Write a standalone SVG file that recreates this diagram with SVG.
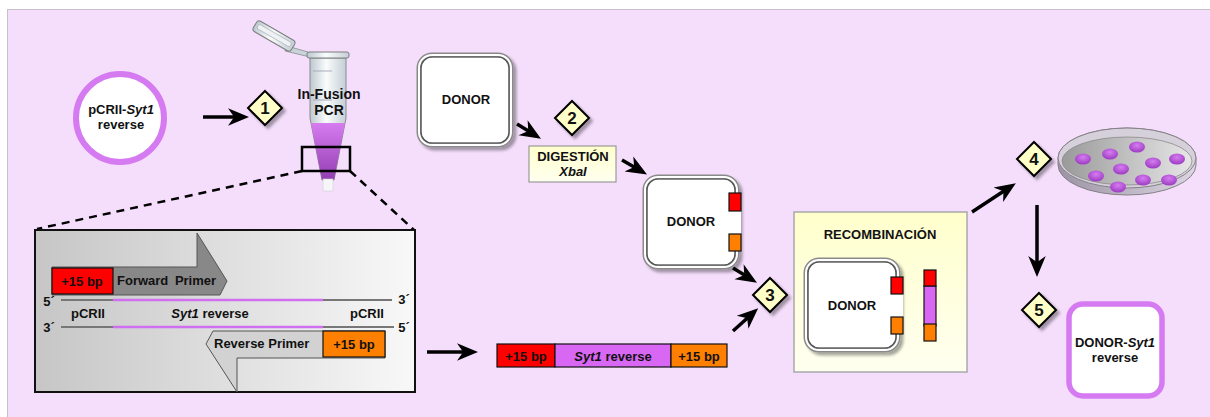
<svg xmlns="http://www.w3.org/2000/svg" width="1210" height="417" viewBox="0 0 1210 417">
  <style>
    text { font-family: "Liberation Sans", Arial, Helvetica, sans-serif; fill: #111; }
    .lbl { font-size: 13px; font-weight: bold; text-anchor: middle; }
    .lbl14 { font-size: 14px; font-weight: bold; text-anchor: middle; }
    .num { font-size: 17px; font-weight: bold; text-anchor: middle; }
    .it { font-style: italic; }
    .conn { stroke: #000; stroke-width: 3.5; fill: none; marker-end: url(#head); }
    .dash { stroke: #000; stroke-width: 2.5; stroke-dasharray: 8 6; fill: none; }
    .diamond { fill: #FFFFC8; stroke: #000; stroke-width: 2; filter: url(#shadow); }
    .ring { fill: #fff; stroke: #D67AF2; stroke-width: 6; }
    .donor-out { fill: #fff; stroke: #8a8a8a; stroke-width: 5; filter: url(#shadow); }
    .donor-mid { fill: none; stroke: #fff; stroke-width: 2; }
    .donor-in { fill: none; stroke: #555; stroke-width: 1.2; }
    .red { fill: #FF0000; stroke: #111; stroke-width: 1.2; }
    .orange { fill: #FF8000; stroke: #111; stroke-width: 1.2; }
    .violet { fill: #D868F4; stroke: #111; stroke-width: 1.2; }
    .colony { fill: url(#colonyGrad); }
    .strand-g { stroke: #777; stroke-width: 2; }
    .strand-p { stroke: #D070F0; stroke-width: 2.5; }
  </style>
  <defs>
    <marker id="head" viewBox="0 0 12 12" refX="8" refY="6" markerWidth="6" markerHeight="6" markerUnits="strokeWidth" orient="auto">
      <path d="M0,1 L12,6 L0,11 L3.5,6 Z" fill="#000"/>
    </marker>
    <filter id="shadow" x="-20%" y="-20%" width="150%" height="150%">
      <feGaussianBlur in="SourceAlpha" stdDeviation="1.5"/>
      <feOffset dx="2.5" dy="2.5" result="b"/>
      <feComponentTransfer><feFuncA type="linear" slope="0.35"/></feComponentTransfer>
      <feMerge><feMergeNode/><feMergeNode in="SourceGraphic"/></feMerge>
    </filter>
    <linearGradient id="insetGrad" x1="0" y1="0" x2="1" y2="0">
      <stop offset="0" stop-color="#C6C6C6"/>
      <stop offset="1" stop-color="#F8F8F8"/>
    </linearGradient>
    <linearGradient id="yellowGrad" x1="0" y1="0" x2="0" y2="1">
      <stop offset="0" stop-color="#FFFFCC"/>
      <stop offset="1" stop-color="#FFFFF0"/>
    </linearGradient>
    <linearGradient id="tubeGrad" x1="0" y1="0" x2="1" y2="0">
      <stop offset="0" stop-color="#BCC8D0"/>
      <stop offset="0.45" stop-color="#FAFCFC"/>
      <stop offset="1" stop-color="#C4CED6"/>
    </linearGradient>
    <linearGradient id="liquidGrad" x1="0" y1="0" x2="0" y2="1">
      <stop offset="0" stop-color="#D67CF0"/>
      <stop offset="1" stop-color="#8E3AAE"/>
    </linearGradient>
    <linearGradient id="dishSide" x1="0" y1="0" x2="1" y2="0">
      <stop offset="0" stop-color="#9C94A4"/>
      <stop offset="1" stop-color="#DCD6E2"/>
    </linearGradient>
    <linearGradient id="dishFloor" x1="0" y1="0" x2="1" y2="0">
      <stop offset="0" stop-color="#9A9A9A"/>
      <stop offset="1" stop-color="#E6E6E6"/>
    </linearGradient>
    <radialGradient id="colonyGrad" cx="0.5" cy="0.35" r="0.6">
      <stop offset="0" stop-color="#D67CF2"/>
      <stop offset="1" stop-color="#A040C4"/>
    </radialGradient>
    <clipPath id="tubeClip">
      <path d="M310,58 L346,58 L346,118 L334,180 L322,180 L310,118 Z"/>
    </clipPath>
  </defs>

  <!-- page background -->
  <rect x="0" y="0" width="1210" height="417" fill="#fff"/>
  <rect x="7.5" y="9.5" width="1220" height="420" fill="#F5DEFC" stroke="#C8C0C8" stroke-width="1"/>

  <!-- connectors -->
  <g id="connectors">
    <line class="dash" x1="302" y1="171" x2="37" y2="229"/>
    <line class="dash" x1="350" y1="171" x2="414" y2="230"/>
    <line class="conn" x1="203" y1="117" x2="242" y2="117"/>
    <line class="conn" x1="517" y1="124" x2="535" y2="135"/>
    <line class="conn" x1="622" y1="160" x2="641" y2="171"/>
    <line class="conn" x1="733" y1="268" x2="751" y2="279"/>
    <line class="conn" x1="733" y1="331" x2="753" y2="313"/>
    <line class="conn" x1="427" y1="352" x2="471" y2="352"/>
    <line class="conn" x1="972" y1="212" x2="1010" y2="187"/>
    <line class="conn" x1="1037" y1="205" x2="1037" y2="270"/>
  </g>

  <!-- starting plasmid -->
  <g id="plasmid">
    <circle class="ring" cx="120" cy="118" r="44"/>
    <text class="lbl" x="121" y="114">pCRII-<tspan class="it">Syt1</tspan></text>
    <text class="lbl" x="121" y="129">reverse</text>
  </g>

  <!-- step markers -->
  <g id="step1">
    <polygon class="diamond" points="265,91 282,108 265,125 248,108"/>
    <text class="num" x="265" y="114">1</text>
  </g>
  <g id="step2">
    <polygon class="diamond" points="572,101 589,118 572,135 555,118"/>
    <text class="num" x="572" y="124">2</text>
  </g>
  <g id="step3">
    <polygon class="diamond" points="770,278 787,295 770,312 753,295"/>
    <text class="num" x="770" y="301">3</text>
  </g>
  <g id="step4">
    <polygon class="diamond" points="1034,142 1051,159 1034,176 1017,159"/>
    <text class="num" x="1034" y="165">4</text>
  </g>
  <g id="step5">
    <polygon class="diamond" points="1039,293 1056,310 1039,327 1022,310"/>
    <text class="num" x="1039" y="316">5</text>
  </g>

  <!-- PCR tube -->
  <g id="tube">
    <path d="M287,46 L308,52 L310,57 L285,51 Z" fill="#C9D3DA" stroke="#8a8a8a" stroke-width="0.8"/>
    <g transform="rotate(30 274 36)">
      <rect x="252" y="30" width="44" height="12" rx="3" fill="url(#tubeGrad)" stroke="#7d7d7d" stroke-width="1"/>
      <rect x="255" y="33" width="38" height="5" rx="2" fill="#EEF2F4" stroke="#a0a8ae" stroke-width="0.6"/>
    </g>
    <path d="M310,58 L346,58 L346,118 L334,180 L322,180 L310,118 Z" fill="url(#tubeGrad)" stroke="#8a8a8a" stroke-width="1"/>
    <rect x="309" y="123" width="40" height="60" fill="url(#liquidGrad)" clip-path="url(#tubeClip)"/>
    <rect x="323" y="179" width="10" height="12" fill="#F6F6F8" stroke="#d0d0d8" stroke-width="0.6"/>
    <rect x="307" y="52" width="42" height="6" rx="2" fill="url(#tubeGrad)" stroke="#7d7d7d" stroke-width="1"/>
    <line x1="313" y1="71" x2="332" y2="71" stroke="#aab" stroke-width="1"/>
    <line x1="313" y1="100" x2="332" y2="100" stroke="#aab" stroke-width="1"/>
    <text class="lbl14" x="329" y="99">In-Fusion</text>
    <text class="lbl14" x="329" y="115">PCR</text>
    <rect x="302" y="147" width="48" height="24" fill="none" stroke="#000" stroke-width="2.5"/>
  </g>

  <!-- primer detail inset -->
  <g id="inset">
    <rect x="35" y="230" width="380" height="162" fill="url(#insetGrad)" stroke="#111" stroke-width="2"/>
    <!-- forward primer -->
    <polygon points="52,267 197,267 197,233 227,281 220,295 52,295" fill="#888" stroke="#555" stroke-width="1"/>
    <rect class="red" x="52" y="268" width="61" height="26"/>
    <text class="lbl" x="82" y="286">+15 bp</text>
    <text x="117" y="285" style="font-size:13px;font-weight:bold;word-spacing:3px">Forward Primer</text>
    <!-- reverse primer -->
    <polygon points="385,331 213,331 206,344 237,392 237,358 385,358" fill="#D2D2D2" stroke="#555" stroke-width="1"/>
    <rect class="orange" x="323" y="331" width="62" height="26"/>
    <text class="lbl" x="354" y="349">+15 bp</text>
    <text x="214" y="348" style="font-size:13px;font-weight:bold">Reverse Primer</text>
    <!-- template strands -->
    <line class="strand-g" x1="61" y1="300" x2="113" y2="300"/>
    <line class="strand-p" x1="113" y1="300" x2="323" y2="300"/>
    <line class="strand-g" x1="323" y1="300" x2="392" y2="300"/>
    <line class="strand-g" x1="61" y1="327" x2="113" y2="327"/>
    <line class="strand-p" x1="113" y1="327" x2="323" y2="327"/>
    <line class="strand-g" x1="323" y1="327" x2="394" y2="327"/>
    <text class="lbl" x="49" y="306">5´</text>
    <text class="lbl" x="49" y="332">3´</text>
    <text class="lbl" x="404" y="304">3´</text>
    <text class="lbl" x="404" y="332">5´</text>
    <text class="lbl" x="88" y="318">pCRII</text>
    <text class="lbl" x="210" y="318"><tspan class="it">Syt1</tspan> reverse</text>
    <text class="lbl" x="367" y="318">pCRII</text>
  </g>

  <!-- PCR product -->
  <g id="insert">
    <rect class="red" x="497" y="344" width="58" height="23"/>
    <rect class="violet" x="555" y="344" width="116" height="23"/>
    <rect class="orange" x="671" y="344" width="56" height="23"/>
    <text class="lbl" x="526" y="361">+15 bp</text>
    <text class="lbl" x="613" y="361"><tspan class="it">Syt1</tspan> reverse</text>
    <text class="lbl" x="699" y="361">+15 bp</text>
  </g>

  <!-- donor vector -->
  <g id="donor">
    <rect class="donor-out" x="419" y="55" width="92" height="90" rx="13"/>
    <rect class="donor-mid" x="419" y="55" width="92" height="90" rx="13"/>
    <rect class="donor-in" x="421" y="57" width="88" height="86" rx="11"/>
    <text class="lbl" x="466" y="104">DONOR</text>
  </g>

  <!-- digestion step -->
  <g id="digestion">
    <rect x="529" y="146" width="87" height="36" fill="url(#yellowGrad)" stroke="#999" stroke-width="1.2"/>
    <text class="lbl" x="573" y="161">DIGESTIÓN</text>
    <text class="lbl it" x="573" y="176">XbaI</text>
  </g>

  <!-- linearised donor -->
  <g id="donor-cut">
    <rect class="donor-out" x="645" y="177" width="92" height="90" rx="13"/>
    <rect class="donor-mid" x="645" y="177" width="92" height="90" rx="13"/>
    <rect class="donor-in" x="647" y="179" width="88" height="86" rx="11"/>
    <rect x="731" y="211" width="10" height="23" fill="#fff"/>
    <rect class="red" x="729" y="193" width="12" height="18"/>
    <rect class="orange" x="729" y="234" width="12" height="17"/>
    <text class="lbl" x="691" y="226">DONOR</text>
  </g>

  <!-- recombination -->
  <g id="recombination">
    <rect x="794" y="212" width="173" height="160" fill="url(#yellowGrad)" stroke="#A8A8A8" stroke-width="1.5"/>
    <text class="lbl" x="880" y="239">RECOMBINACIÓN</text>
    <rect class="donor-out" x="806" y="260" width="92" height="90" rx="13"/>
    <rect class="donor-mid" x="806" y="260" width="92" height="90" rx="13"/>
    <rect class="donor-in" x="808" y="262" width="88" height="86" rx="11"/>
    <rect x="893" y="294" width="10" height="23" fill="#fff"/>
    <rect class="red" x="891" y="277" width="12" height="17"/>
    <rect class="orange" x="891" y="317" width="12" height="17"/>
    <text class="lbl" x="852" y="310">DONOR</text>
    <rect class="violet" x="924" y="286" width="12" height="40"/>
    <rect class="red" x="924" y="270" width="12" height="16"/>
    <rect class="orange" x="924" y="324" width="12" height="17"/>
  </g>

  <!-- plated colonies -->
  <g id="petri">
    <path d="M1058,158 A69,30 0 0 1 1196,158 L1196,165 A69,30 0 0 1 1058,165 Z" fill="url(#dishSide)" stroke="#858088" stroke-width="1"/>
    <ellipse cx="1127" cy="158" rx="69" ry="30" fill="#D6D0DA" stroke="#858088" stroke-width="1"/>
    <ellipse cx="1127" cy="161" rx="65" ry="24" fill="url(#dishFloor)" stroke="#8a8a8a" stroke-width="0.8"/>
    <ellipse class="colony" cx="1083" cy="159" rx="8" ry="5.5"/>
    <ellipse class="colony" cx="1110" cy="154" rx="8" ry="5.5"/>
    <ellipse class="colony" cx="1137" cy="147" rx="8" ry="5.5"/>
    <ellipse class="colony" cx="1153" cy="163" rx="8" ry="5.5"/>
    <ellipse class="colony" cx="1177" cy="159" rx="8" ry="5.5"/>
    <ellipse class="colony" cx="1121" cy="169" rx="8" ry="5.5"/>
    <ellipse class="colony" cx="1096" cy="176" rx="8" ry="5.5"/>
    <ellipse class="colony" cx="1118" cy="187" rx="8" ry="5.5"/>
    <ellipse class="colony" cx="1143" cy="180" rx="8" ry="5.5"/>
    <ellipse class="colony" cx="1169" cy="180" rx="8" ry="5.5"/>
  </g>

  <!-- final construct -->
  <g id="final">
    <rect x="1069" y="304" width="93" height="92" rx="14" fill="#fff" stroke="#D67AF2" stroke-width="5.5"/>
    <text class="lbl" x="1115" y="347">DONOR-<tspan class="it">Syt1</tspan></text>
    <text class="lbl" x="1115" y="362">reverse</text>
  </g>
</svg>
